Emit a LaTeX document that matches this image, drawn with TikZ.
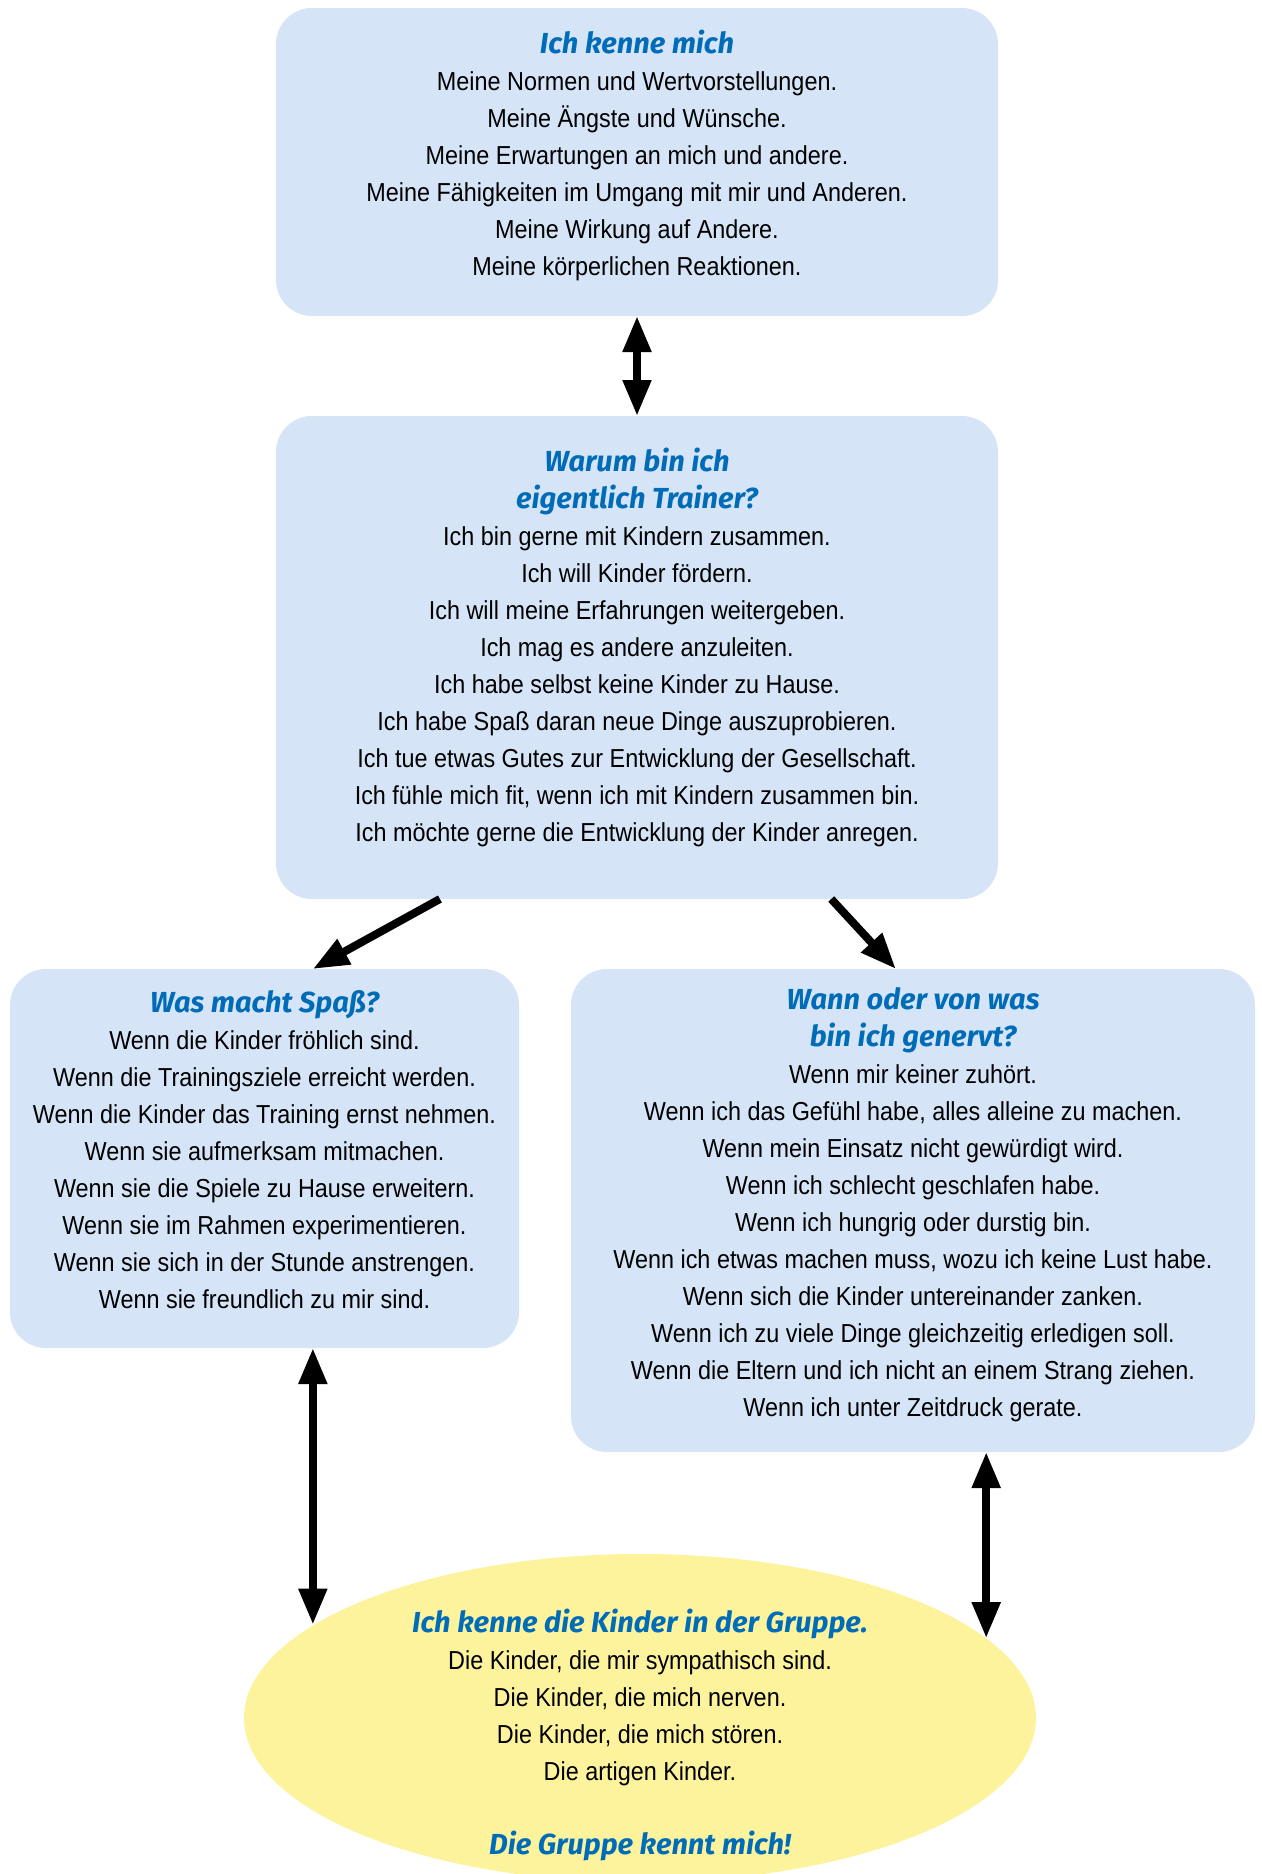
\documentclass[tikz,border=0pt]{standalone}
\usepackage{fontspec}
\setmainfont[FakeStretch=0.9]{Liberation Sans}
\newfontfamily\kopffont{Fira Sans}
\usetikzlibrary{arrows.meta,shapes.geometric,calc}
\definecolor{kastenblau}{RGB}{213,228,246}
\definecolor{kopfblau}{RGB}{0,108,183}
\definecolor{gruppegelb}{RGB}{253,243,157}
\newcommand{\kopf}[1]{{\kopffont\bfseries\itshape\fontsize{29}{37}\selectfont\color{kopfblau}#1}}

\begin{document}
\begin{tikzpicture}[x=1pt,y=-1pt,
  kasten/.style={fill=kastenblau,rounded corners=36pt,align=center,inner sep=0pt,outer sep=0pt,
    text depth=18pt,font=\fontsize{26}{37}\selectfont},
  pfeil/.style={line width=8pt,-{Triangle[length=36pt,width=27pt]}},
  doppelpfeil/.style={line width=8pt,{Triangle[length=36pt,width=27pt]}-{Triangle[length=36pt,width=27pt]}}]
\useasboundingbox (0,0) rectangle (1261,1874);

\node[kasten,minimum width=722pt,minimum height=308pt] (ich) at (637,162) {\kopf{Ich kenne mich}\\
  Meine Normen und Wertvorstellungen.\\
  Meine Ängste und Wünsche.\\
  Meine Erwartungen an mich und andere.\\
  Meine Fähigkeiten im Umgang mit mir und Anderen.\\
  Meine Wirkung auf Andere.\\
  Meine körperlichen Reaktionen.};

\node[kasten,text depth=26pt,minimum width=722pt,minimum height=483pt] (warum) at (637,657.5) {\kopf{Warum bin ich}\\
  \kopf{eigentlich Trainer?}\\
  Ich bin gerne mit Kindern zusammen.\\
  Ich will Kinder fördern.\\
  Ich will meine Erfahrungen weitergeben.\\
  Ich mag es andere anzuleiten.\\
  Ich habe selbst keine Kinder zu Hause.\\
  Ich habe Spaß daran neue Dinge auszuprobieren.\\
  Ich tue etwas Gutes zur Entwicklung der Gesellschaft.\\
  Ich fühle mich fit, wenn ich mit Kindern zusammen bin.\\
  Ich möchte gerne die Entwicklung der Kinder anregen.};

\node[kasten,minimum width=509pt,minimum height=379pt] (spass) at (264.5,1158.5) {\kopf{Was macht Spaß?}\\
  Wenn die Kinder fröhlich sind.\\
  Wenn die Trainingsziele erreicht werden.\\
  Wenn die Kinder das Training ernst nehmen.\\
  Wenn sie aufmerksam mitmachen.\\
  Wenn sie die Spiele zu Hause erweitern.\\
  Wenn sie im Rahmen experimentieren.\\
  Wenn sie sich in der Stunde anstrengen.\\
  Wenn sie freundlich zu mir sind.};

\node[kasten,minimum width=684pt,minimum height=483pt] (genervt) at (913,1210.5) {\kopf{Wann oder von was}\\
  \kopf{bin ich genervt?}\\
  Wenn mir keiner zuhört.\\
  Wenn ich das Gefühl habe, alles alleine zu machen.\\
  Wenn mein Einsatz nicht gewürdigt wird.\\
  Wenn ich schlecht geschlafen habe.\\
  Wenn ich hungrig oder durstig bin.\\
  Wenn ich etwas machen muss, wozu ich keine Lust habe.\\
  Wenn sich die Kinder untereinander zanken.\\
  Wenn ich zu viele Dinge gleichzeitig erledigen soll.\\
  Wenn die Eltern und ich nicht an einem Strang ziehen.\\
  Wenn ich unter Zeitdruck gerate.};

% die Gruppe
\node[ellipse,fill=gruppegelb,minimum width=792pt,minimum height=328pt,inner sep=0pt,outer sep=0pt] (gruppe) at (640,1718) {};
\node[align=center,inner sep=0pt,font=\fontsize{26}{37}\selectfont] (gruppetext) at (640,1735) {\kopf{Ich kenne die Kinder in der Gruppe.}\\
  Die Kinder, die mir sympathisch sind.\\
  Die Kinder, die mich nerven.\\
  Die Kinder, die mich stören.\\
  Die artigen Kinder.\\[37pt]
  \kopf{Die Gruppe kennt mich!}};

\coordinate (spassfuss) at ($(spass.south west)!0.595!(spass.south east)$);
\coordinate (genervtfuss) at ($(genervt.south west)!0.607!(genervt.south east)$);

\draw[doppelpfeil] (ich.south) -- (warum.north);
\draw[pfeil] ($(warum.south west)!0.227!(warum.south east)$) -- ($(spass.north west)!0.595!(spass.north east)$);
\draw[pfeil] ($(warum.south west)!0.769!(warum.south east)$) -- ($(genervt.north west)!0.475!(genervt.north east)$);
\draw[doppelpfeil] (spassfuss) -- (spassfuss |- gruppe.164);
\draw[doppelpfeil] (genervtfuss) -- (genervtfuss |- gruppe.13);
\end{tikzpicture}
\end{document}
